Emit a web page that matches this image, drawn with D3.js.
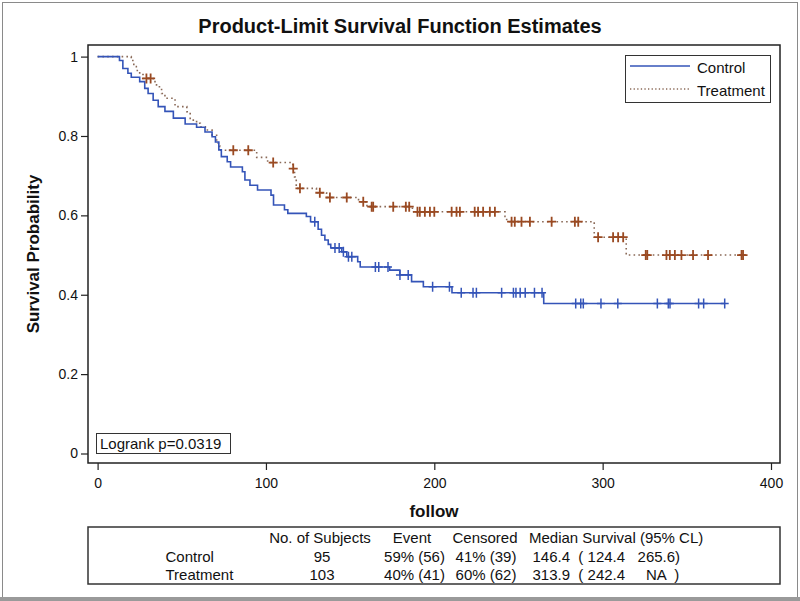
<!DOCTYPE html>
<html>
<head>
<meta charset="utf-8">
<script src="https://cdn.jsdelivr.net/npm/d3@7"></script>
<style>
  body { margin: 0; background: #fff; }
  svg { display: block; font-family: "Liberation Sans", Arial, sans-serif; }
</style>
</head>
<body>
<svg id="chart" width="800" height="601"></svg>
<script>
// ---------------- data ----------------
const title = "Product-Limit Survival Function Estimates";
const xLabel = "follow";
const yLabel = "Survival Probability";
const xTicks = [0, 100, 200, 300, 400];
const yTicks = [0, 0.2, 0.4, 0.6, 0.8, 1];
const yTickLabels = ["0", "0.2", "0.4", "0.6", "0.8", "1"];
const seriesNames = ["Control", "Treatment"];
const logrankText = "Logrank p=0.0319";

// Control: step times and survival after each step
const controlTimes = [0, 13, 15, 18, 20, 25, 28, 30, 33, 36, 40, 45, 52, 58.8, 63.8, 68, 70, 72, 73.5, 77, 79, 86, 87.5, 90.5, 95, 103, 104.5, 111, 113, 124, 126.5, 131, 133, 135, 137, 138.5, 145, 148, 154.5, 156, 173.5, 179.5, 186.5, 193.5, 210.5, 265];
const controlSurv  = [1, 0.99, 0.97, 0.958, 0.948, 0.937, 0.92, 0.907, 0.89, 0.874, 0.862, 0.845, 0.83, 0.822, 0.81, 0.798, 0.785, 0.765, 0.748, 0.735, 0.722, 0.71, 0.689, 0.676, 0.664, 0.651, 0.626, 0.614, 0.605, 0.597, 0.584, 0.565, 0.55, 0.538, 0.527, 0.518, 0.508, 0.496, 0.483, 0.47, 0.462, 0.45, 0.433, 0.42, 0.405, 0.378];
const controlCensor = [129, 141, 143.5, 146, 149, 151, 165, 167, 172.5, 179.6, 184.5, 199, 209, 216, 223, 225, 240, 247, 248.5, 251, 254, 259.5, 264, 284, 287, 288.5, 299, 309, 332.5, 339, 340, 357, 360, 372.5];
const controlEnd = 372.6;

// Treatment
const treatTimes = [0, 20, 21.5, 23, 25, 27, 33, 35, 38, 40, 46, 53, 55, 58.8, 61, 64, 68, 70.7, 71.7, 72.5, 94.5, 101, 116, 117, 118, 130, 136, 155, 160, 187, 242, 243, 295, 314];
const treatSurv  = [1, 0.99, 0.975, 0.965, 0.955, 0.945, 0.937, 0.924, 0.907, 0.895, 0.874, 0.861, 0.84, 0.832, 0.823, 0.815, 0.802, 0.79, 0.775, 0.764, 0.746, 0.733, 0.718, 0.697, 0.668, 0.657, 0.645, 0.634, 0.622, 0.609, 0.597, 0.584, 0.545, 0.5];
const treatCensor = [29, 31.5, 80.6, 89.5, 104.3, 116.2, 120.2, 132, 138, 148, 157.8, 162.8, 163.7, 175.6, 183.1, 185.1, 190, 191.4, 194.4, 197.4, 200, 210.3, 213.2, 215.2, 224, 226, 229, 233, 236, 245.9, 247.8, 251.8, 256.8, 269.7, 283.5, 285.5, 297.3, 306.2, 309.2, 312.2, 325.6, 326.5, 337.9, 339.9, 342.9, 346.8, 353.7, 362.6, 382.5, 383.4];
const treatEnd = 384.4;

// Summary table
const tableHeader = ["No. of Subjects", "Event", "Censored", "Median Survival (95% CL)"];
const tableRowNames = ["Control", "Treatment"];
const tableSubjects = ["95", "103"];
const tableEvent = ["59% (56)", "40% (41)"];
const tableCensored = ["41% (39)", "60% (62)"];
const tableMedian = ["146.4  ( 124.4   265.6)", "313.9  ( 242.4     NA  )"];

// ---------------- drawing ----------------
const svg = d3.select("#chart");
const FONT = '"Liberation Sans", Arial, sans-serif';
const BLUE = "#3454b8";
const BROWN = "#9a4a22";
const DOT = "#8a6a58";

// outer frame
svg.append("rect").attr("x", 2.5).attr("y", 2.5).attr("width", 795).attr("height", 595)
  .attr("fill", "#fff").attr("stroke", "#8a8a8a").attr("stroke-width", 1);
svg.append("rect").attr("x", 0).attr("y", 597).attr("width", 800).attr("height", 4)
  .attr("fill", "#9a9a9a");

const plot = { left: 88, top: 45, right: 780, bottom: 463 };
const x = d3.scaleLinear().domain([0, 400]).range([97.6, 771]);
const y = d3.scaleLinear().domain([0, 1]).range([453.5, 56.6]);

// title
svg.append("text").attr("x", 400).attr("y", 33).attr("text-anchor", "middle")
  .attr("font-size", 20).attr("font-weight", "bold").attr("fill", "#111").text(title);

// axes
const xAxis = svg.append("g").attr("transform", `translate(0,${plot.bottom})`)
  .call(d3.axisBottom(x).tickValues(xTicks).tickSize(7).tickPadding(8).tickFormat(d3.format("d")));
const yAxis = svg.append("g").attr("transform", `translate(${plot.left},0)`)
  .call(d3.axisLeft(y).tickValues(yTicks).tickSize(7).tickPadding(3).tickFormat((d, i) => yTickLabels[i]));
[xAxis, yAxis].forEach(g => {
  g.select(".domain").remove();
  g.selectAll(".tick line").attr("stroke", "#222").attr("stroke-width", 1.2);
  g.selectAll(".tick text").attr("font-size", 14).attr("font-family", FONT).attr("fill", "#111");
});

// plot frame
svg.append("rect").attr("x", plot.left).attr("y", plot.top)
  .attr("width", plot.right - plot.left).attr("height", plot.bottom - plot.top)
  .attr("fill", "none").attr("stroke", "#222").attr("stroke-width", 1.5);

// axis labels
svg.append("text").attr("x", (plot.left + plot.right) / 2).attr("y", 517).attr("text-anchor", "middle")
  .attr("font-size", 17).attr("font-weight", "bold").attr("fill", "#111").text(xLabel);
svg.append("text").attr("transform", `translate(39,${(plot.top + plot.bottom) / 2}) rotate(-90)`)
  .attr("text-anchor", "middle").attr("font-size", 17).attr("font-weight", "bold").attr("fill", "#111").text(yLabel);

// step curves
function stepPoints(times, surv, end) {
  const pts = times.map((t, i) => [t, surv[i]]);
  pts.push([end, surv[surv.length - 1]]);
  return pts;
}
function survAt(times, surv, t) {
  let s = surv[0];
  for (let i = 0; i < times.length; i++) { if (times[i] <= t) s = surv[i]; }
  return s;
}
const line = d3.line().x(d => x(d[0])).y(d => y(d[1])).curve(d3.curveStepAfter);

svg.append("path").datum(stepPoints(treatTimes, treatSurv, treatEnd))
  .attr("d", line).attr("fill", "none").attr("stroke", DOT).attr("stroke-width", 1.6)
  .attr("stroke-dasharray", "1.6,3.2");
svg.append("path").datum(stepPoints(controlTimes, controlSurv, controlEnd))
  .attr("d", line).attr("fill", "none").attr("stroke", BLUE).attr("stroke-width", 1.6);

function censorPath(t, s, hw, hh) {
  const cx = x(t), cy = y(s);
  return `M${cx - hw},${cy}H${cx + hw}M${cx},${cy - hh}V${cy + hh}`;
}
svg.append("g").selectAll("path").data(controlCensor).join("path")
  .attr("d", t => censorPath(t, survAt(controlTimes, controlSurv, t), 4, 5))
  .attr("stroke", BLUE).attr("stroke-width", 1.5).attr("fill", "none");
svg.append("g").selectAll("path").data(treatCensor).join("path")
  .attr("d", t => censorPath(t, survAt(treatTimes, treatSurv, t), 4.5, 5))
  .attr("stroke", BROWN).attr("stroke-width", 1.8).attr("fill", "none");

// legend
const lg = svg.append("g");
lg.append("rect").attr("x", 625.5).attr("y", 55.5).attr("width", 145).attr("height", 47)
  .attr("fill", "#fff").attr("stroke", "#333").attr("stroke-width", 1);
lg.append("line").attr("x1", 630).attr("x2", 690).attr("y1", 66).attr("y2", 66)
  .attr("stroke", BLUE).attr("stroke-width", 1.6);
lg.append("line").attr("x1", 630).attr("x2", 690).attr("y1", 89).attr("y2", 89)
  .attr("stroke", DOT).attr("stroke-width", 1.6).attr("stroke-dasharray", "1.3,2.3");
lg.append("text").attr("x", 697).attr("y", 72.5).attr("font-size", 15).attr("fill", "#111").text(seriesNames[0]);
lg.append("text").attr("x", 697).attr("y", 95.5).attr("font-size", 15).attr("fill", "#111").text(seriesNames[1]);

// logrank box
svg.append("rect").attr("x", 96.5).attr("y", 433.5).attr("width", 134).attr("height", 20)
  .attr("fill", "#fff").attr("stroke", "#333").attr("stroke-width", 1);
svg.append("text").attr("x", 100).attr("y", 449).attr("font-size", 15).attr("fill", "#111").text(logrankText);

// summary table
svg.append("rect").attr("x", 88).attr("y", 527).attr("width", 692).attr("height", 57)
  .attr("fill", "#fff").attr("stroke", "#333").attr("stroke-width", 1.5);
const tfs = 15;
const rowY = [543, 561.5, 579.5];
const tg = svg.append("g").attr("font-size", tfs).attr("fill", "#111");
const headX = [320, 412, 485, 529];
const headAnchor = ["middle", "middle", "middle", "start"];
tableHeader.forEach((h, i) => {
  tg.append("text").attr("x", headX[i]).attr("y", rowY[0]).attr("text-anchor", headAnchor[i]).text(h);
});
tableRowNames.forEach((r, i) => {
  const yy = rowY[i + 1];
  tg.append("text").attr("x", 165.5).attr("y", yy).text(r);
  tg.append("text").attr("x", 322).attr("y", yy).attr("text-anchor", "middle").text(tableSubjects[i]);
  tg.append("text").attr("x", 414.5).attr("y", yy).attr("text-anchor", "middle").text(tableEvent[i]);
  tg.append("text").attr("x", 486).attr("y", yy).attr("text-anchor", "middle").text(tableCensored[i]);
  tg.append("text").attr("x", 532.5).attr("y", yy).attr("xml:space", "preserve").style("white-space", "pre").text(tableMedian[i]);
});
</script>
</body>
</html>
